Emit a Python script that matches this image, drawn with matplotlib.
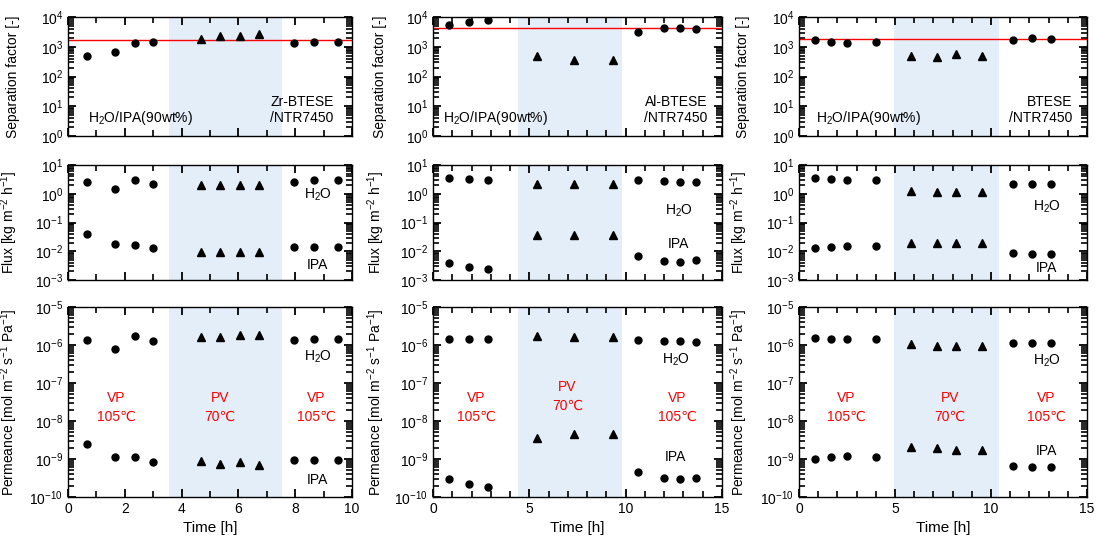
import matplotlib
matplotlib.use("Agg")
from matplotlib import pyplot as plt
from matplotlib.ticker import LogLocator, MultipleLocator, NullFormatter

plt.rcParams['font.family'] = ['Liberation Sans', 'DejaVu Sans']
plt.rcParams['mathtext.fontset'] = 'custom'
plt.rcParams['mathtext.rm'] = 'Liberation Sans'
plt.rcParams['mathtext.it'] = 'Liberation Sans:italic'
plt.rcParams['mathtext.bf'] = 'Liberation Sans:bold'
plt.rcParams['font.size'] = 10

# ---- Zr-BTESE/NTR7450 ----
zr_t_vp = [0.67, 1.67, 2.35, 3.0, 7.96, 8.65, 9.49]
zr_t_pv = [4.7, 5.35, 6.04, 6.73]
zr_sf_vp = [506, 655, 1340, 1410, 1380, 1450, 1490]
zr_sf_pv = [1830, 2300, 2270, 2700]
zr_flux_h2o_vp = [2.5, 1.43, 3.0, 2.24, 2.6, 3.0, 3.0]
zr_flux_h2o_pv = [1.94, 1.94, 2.0, 2.0]
zr_flux_ipa_vp = [0.041, 0.0174, 0.017, 0.0126, 0.014, 0.0143, 0.0137]
zr_flux_ipa_pv = [0.0091, 0.0091, 0.0091, 0.0091]
zr_perm_h2o_vp = [1.33e-6, 8.0e-7, 1.7e-6, 1.27e-6, 1.38e-6, 1.47e-6, 1.47e-6]
zr_perm_h2o_pv = [1.6e-6, 1.65e-6, 1.87e-6, 1.87e-6]
zr_perm_ipa_vp = [2.5e-9, 1.13e-9, 1.13e-9, 8.2e-10, 9.2e-10, 9.6e-10, 9.2e-10]
zr_perm_ipa_pv = [8.9e-10, 7.6e-10, 8.4e-10, 7.1e-10]
zr_sf_ref = 1750
zr_pv_span = (3.55, 7.55)

# ---- Al-BTESE/NTR7450 ----
al_t_vp = [0.85, 1.86, 2.84, 10.64, 11.97, 12.8, 13.64]
al_t_pv = [5.39, 7.34, 9.35]
al_sf_vp = [5200, 6800, 7900, 3150, 4300, 4300, 4000]
al_sf_pv = [500, 355, 355]
al_flux_h2o_vp = [3.4, 3.16, 3.0, 3.0, 2.7, 2.6, 2.6]
al_flux_h2o_pv = [2.23, 2.23, 2.17]
al_flux_ipa_vp = [0.0038, 0.0029, 0.0025, 0.0067, 0.0046, 0.0042, 0.0048]
al_flux_ipa_pv = [0.038, 0.038, 0.038]
al_perm_h2o_vp = [1.44e-6, 1.44e-6, 1.44e-6, 1.38e-6, 1.27e-6, 1.25e-6, 1.23e-6]
al_perm_h2o_pv = [1.76e-6, 1.6e-6, 1.6e-6]
al_perm_ipa_vp = [2.9e-10, 2.2e-10, 1.87e-10, 4.55e-10, 3.16e-10, 2.9e-10, 3.2e-10]
al_perm_ipa_pv = [3.6e-9, 4.45e-9, 4.45e-9]
al_sf_ref = 4400
al_pv_span = (4.4, 9.8)

# ---- BTESE/NTR7450 ----
bt_t_vp = [0.83, 1.69, 2.49, 4.0, 11.16, 12.15, 13.14]
bt_t_pv = [5.84, 7.18, 8.19, 9.52]
bt_sf_vp = [1650, 1410, 1330, 1410, 1740, 1900, 1820]
bt_sf_pv = [507, 460, 550, 490]
bt_flux_h2o_vp = [3.5, 3.2, 3.0, 2.9, 2.14, 2.14, 2.1]
bt_flux_h2o_pv = [1.28, 1.11, 1.11, 1.11]
bt_flux_ipa_vp = [0.0132, 0.0143, 0.015, 0.0147, 0.0087, 0.008, 0.0082]
bt_flux_ipa_pv = [0.0196, 0.0196, 0.0196, 0.0196]
bt_perm_h2o_vp = [1.57e-6, 1.48e-6, 1.45e-6, 1.45e-6, 1.14e-6, 1.14e-6, 1.1e-6]
bt_perm_h2o_pv = [1.07e-6, 9.5e-7, 9.5e-7, 9.3e-7]
bt_perm_ipa_vp = [1.01e-9, 1.12e-9, 1.17e-9, 1.12e-9, 6.5e-10, 6.0e-10, 6.0e-10]
bt_perm_ipa_pv = [2.09e-9, 1.95e-9, 1.74e-9, 1.77e-9]
bt_sf_ref = 1780
bt_pv_span = (4.95, 10.4)

membranes = [
    dict(name='Zr-BTESE\n/NTR7450', xmax=10, xmajor=2, span=zr_pv_span, ref=zr_sf_ref,
         tvp=zr_t_vp, tpv=zr_t_pv, sf=(zr_sf_vp, zr_sf_pv),
         flux=[(zr_flux_h2o_vp, zr_flux_h2o_pv), (zr_flux_ipa_vp, zr_flux_ipa_pv)],
         perm=[(zr_perm_h2o_vp, zr_perm_h2o_pv), (zr_perm_ipa_vp, zr_perm_ipa_pv)]),
    dict(name='Al-BTESE\n/NTR7450', xmax=15, xmajor=5, span=al_pv_span, ref=al_sf_ref,
         tvp=al_t_vp, tpv=al_t_pv, sf=(al_sf_vp, al_sf_pv),
         flux=[(al_flux_h2o_vp, al_flux_h2o_pv), (al_flux_ipa_vp, al_flux_ipa_pv)],
         perm=[(al_perm_h2o_vp, al_perm_h2o_pv), (al_perm_ipa_vp, al_perm_ipa_pv)]),
    dict(name='BTESE\n/NTR7450', xmax=15, xmajor=5, span=bt_pv_span, ref=bt_sf_ref,
         tvp=bt_t_vp, tpv=bt_t_pv, sf=(bt_sf_vp, bt_sf_pv),
         flux=[(bt_flux_h2o_vp, bt_flux_h2o_pv), (bt_flux_ipa_vp, bt_flux_ipa_pv)],
         perm=[(bt_perm_h2o_vp, bt_perm_h2o_pv), (bt_perm_ipa_vp, bt_perm_ipa_pv)]),
]

# label positions (axes fraction) per column
name_x = [0.935, 0.95, 0.95]
feed_x = [0.07, 0.035, 0.06]
flux_lab = [((0.88, 0.74), (0.88, 0.13)), ((0.85, 0.6), (0.85, 0.31)), ((0.86, 0.635), (0.86, 0.1))]
perm_lab = [((0.88, 0.74), (0.88, 0.09)), ((0.84, 0.72), (0.84, 0.21)), ((0.86, 0.716), (0.86, 0.24))]
mode_x = [(0.17, 0.535, 0.875), (0.15, 0.465, 0.845), (0.165, 0.525, 0.86)]
mode_y = [(0.47, 0.47, 0.47), (0.47, 0.53, 0.47), (0.47, 0.47, 0.47)]

W, H = 1096, 548
col_px = [(68, 284), (433, 289), (799, 288)]
row_px = [(17, 136), (165, 280), (307, 497)]

fig = plt.figure(figsize=(W / 100, H / 100), dpi=100)

ms_c = 5
ms_t = 6
shade = '#e3eef9'


def style_axis(ax, m, ylim, show_x):
    ax.set_xlim(0, m['xmax'])
    ax.set_yscale('log')
    ax.set_ylim(*ylim)
    ax.xaxis.set_major_locator(MultipleLocator(m['xmajor']))
    ax.xaxis.set_minor_locator(MultipleLocator(1))
    ax.yaxis.set_major_locator(LogLocator(base=10.0, numticks=12))
    ax.yaxis.set_minor_locator(LogLocator(base=10.0, subs=(2., 3., 4., 5., 6., 7., 8., 9.), numticks=12))
    ax.yaxis.set_minor_formatter(NullFormatter())
    ax.tick_params(which='both', direction='in', top=True, right=True, labelsize=10)
    ax.tick_params(which='major', length=5.5, width=1.3)
    ax.tick_params(which='minor', length=4, width=1.2)
    if not show_x:
        ax.tick_params(labelbottom=False)
    for s in ax.spines.values():
        s.set_linewidth(1.0)
    ax.axvspan(m['span'][0], m['span'][1], color=shade, zorder=0, lw=0)


for c, m in enumerate(membranes):
    left, width = col_px[c]
    axes = []
    for r in range(3):
        top, bot = row_px[r]
        ax = fig.add_axes([left / W, 1 - bot / H, width / W, (bot - top) / H])
        axes.append(ax)
    ax1, ax2, ax3 = axes

    # separation factor
    style_axis(ax1, m, (1, 1e4), False)
    ax1.axhline(m['ref'], color='red', lw=1.0, zorder=2)
    ax1.plot(m['tvp'], m['sf'][0], 'o', color='black', ms=ms_c, zorder=3)
    ax1.plot(m['tpv'], m['sf'][1], '^', color='black', ms=ms_t, zorder=3)
    ax1.set_ylabel('Separation factor [-]')
    ax1.text(feed_x[c], 0.15, 'H$_2$O/IPA(90wt%)', transform=ax1.transAxes,
             ha='left', va='center', fontsize=10)
    ax1.text(name_x[c], 0.22, m['name'], transform=ax1.transAxes,
             ha='right', va='center', fontsize=10, linespacing=1.15)

    # flux
    style_axis(ax2, m, (1e-3, 10), False)
    for vp, pv in m['flux']:
        ax2.plot(m['tvp'], vp, 'o', color='black', ms=ms_c, zorder=3)
        ax2.plot(m['tpv'], pv, '^', color='black', ms=ms_t, zorder=3)
    ax2.set_ylabel('Flux [kg m$^{-2}$ h$^{-1}$]')
    (hx, hy), (ix, iy) = flux_lab[c]
    ax2.text(hx, hy, 'H$_2$O', transform=ax2.transAxes, ha='center', va='center')
    ax2.text(ix, iy, 'IPA', transform=ax2.transAxes, ha='center', va='center')

    # permeance
    style_axis(ax3, m, (1e-10, 1e-5), True)
    for vp, pv in m['perm']:
        ax3.plot(m['tvp'], vp, 'o', color='black', ms=ms_c, zorder=3)
        ax3.plot(m['tpv'], pv, '^', color='black', ms=ms_t, zorder=3)
    ax3.set_ylabel('Permeance [mol m$^{-2}$ s$^{-1}$ Pa$^{-1}$]')
    ax3.set_xlabel('Time [h]', fontsize=11)
    (hx, hy), (ix, iy) = perm_lab[c]
    ax3.text(hx, hy, 'H$_2$O', transform=ax3.transAxes, ha='center', va='center')
    ax3.text(ix, iy, 'IPA', transform=ax3.transAxes, ha='center', va='center')
    for txt, x, y in zip(['VP\n105\u2103', 'PV\n70\u2103', 'VP\n105\u2103'], mode_x[c], mode_y[c]):
        ax3.text(x, y, txt, transform=ax3.transAxes, ha='center', va='center',
                 color='red', linespacing=1.4)

    lx = [-0.169, -0.159, -0.17][c]
    for ax in axes:
        ax.yaxis.set_label_coords(lx, 0.5)

fig.savefig('out.png', dpi=100)
